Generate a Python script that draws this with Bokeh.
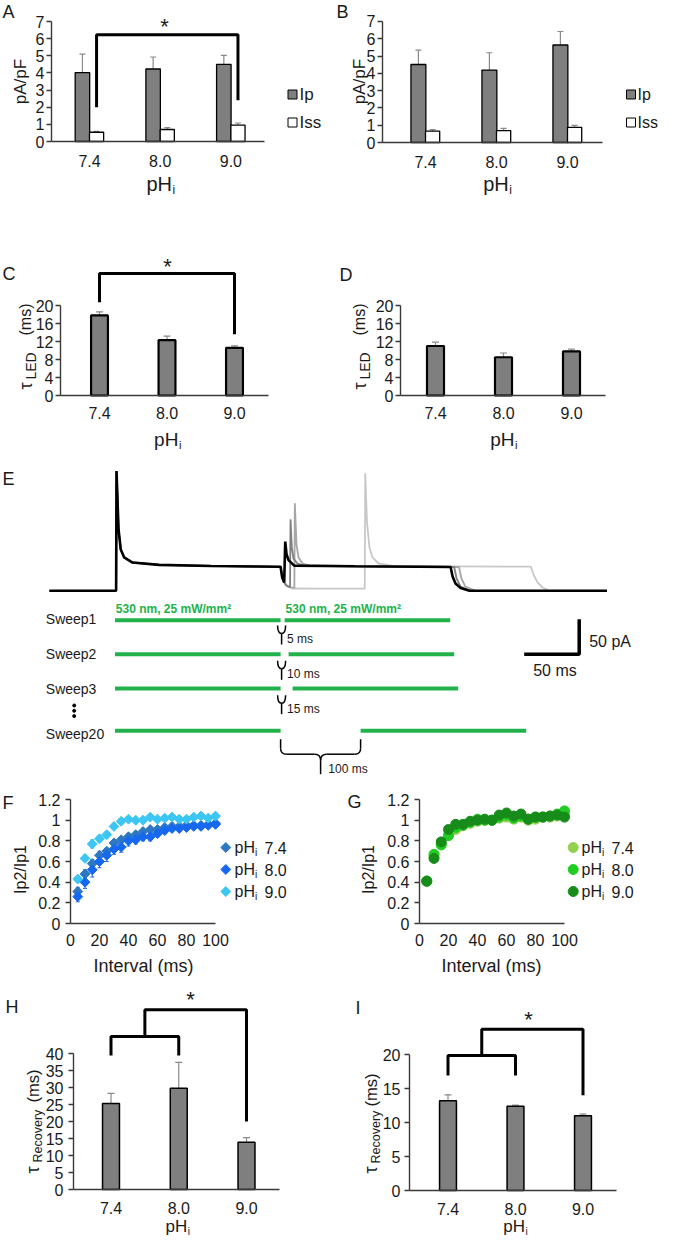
import math
from bokeh.plotting import figure
from bokeh.layouts import column, row
from bokeh.models import Range1d, FixedTicker, Label, Whisker, TeeHead, ColumnDataSource
from bokeh.embed import file_html
from bokeh.resources import INLINE

FONT = "Liberation Sans"
INK = "#1a1a1a"
AXC = "#3a3a3a"
BAR = "#7f7f7f"
ERRC = "#8a8a8a"
GREEN = "#22b24c"

# ---------------- data ----------------
ph_labels = ["7.4", "8.0", "9.0"]
cats = [1, 2, 3]

# A / B : current density (pA/pF)
a_ip = [4.02, 4.23, 4.50]
a_ip_err = [1.08, 0.70, 0.52]
a_iss = [0.54, 0.70, 0.96]
a_iss_err = [0.05, 0.11, 0.12]

b_ip = [4.51, 4.19, 5.64]
b_ip_err = [0.83, 1.00, 0.78]
b_iss = [0.66, 0.69, 0.88]
b_iss_err = [0.08, 0.13, 0.11]

# C / D : tau LED (ms)
c_tau = [17.8, 12.3, 10.6]
c_err = [0.8, 0.9, 0.45]
d_tau = [11.0, 8.5, 9.8]
d_err = [0.85, 0.95, 0.5]

# H / I : tau recovery (ms)
h_tau = [25.3, 29.8, 13.9]
h_err = [3.0, 7.6, 1.35]
i_tau = [13.2, 12.4, 11.0]
i_err = [0.85, 0.15, 0.25]

# F / G : Ip2/Ip1 vs interval
intervals = [5, 10, 15, 20, 25, 30, 35, 40, 45, 50, 55, 60, 65, 70, 75, 80, 85, 90, 95, 100]
f_74 = [0.31, 0.48, 0.58, 0.66, 0.70, 0.78, 0.81, 0.84, 0.86, 0.89, 0.91, 0.91, 0.93, 0.94, 0.94, 0.95, 0.95, 0.95, 0.96, 0.97]
f_74_err = [0.04, 0.04, 0.04, 0.04, 0.03, 0.03, 0.03, 0.03, 0.03, 0.03, 0.02, 0.02, 0.02, 0.02, 0.02, 0.02, 0.02, 0.02, 0.02, 0.02]
f_80 = [0.26, 0.40, 0.52, 0.60, 0.66, 0.72, 0.74, 0.80, 0.81, 0.84, 0.84, 0.87, 0.90, 0.92, 0.92, 0.93, 0.94, 0.94, 0.95, 0.96]
f_80_err = [0.05, 0.06, 0.07, 0.06, 0.06, 0.05, 0.05, 0.05, 0.04, 0.04, 0.04, 0.03, 0.03, 0.03, 0.03, 0.03, 0.02, 0.02, 0.02, 0.02]
f_90 = [0.43, 0.63, 0.77, 0.82, 0.86, 0.94, 0.99, 1.01, 1.00, 1.00, 1.03, 1.01, 1.02, 1.03, 1.01, 1.01, 1.03, 1.04, 1.02, 1.04]
f_90_err = [0.03, 0.03, 0.04, 0.03, 0.03, 0.02, 0.02, 0.02, 0.02, 0.02, 0.02, 0.02, 0.02, 0.02, 0.02, 0.02, 0.02, 0.02, 0.02, 0.02]

g_74 = [0.41, 0.65, 0.77, 0.86, 0.91, 0.95, 0.97, 0.99, 1.00, 1.00, 1.02, 1.03, 1.01, 1.03, 1.00, 1.01, 1.03, 1.03, 1.04, 1.06]
g_80 = [0.41, 0.67, 0.76, 0.85, 0.93, 0.95, 0.98, 1.01, 1.00, 1.00, 1.03, 1.05, 1.02, 1.04, 1.01, 1.03, 1.03, 1.04, 1.06, 1.09]
g_90 = [0.41, 0.63, 0.79, 0.91, 0.96, 0.96, 0.99, 1.00, 1.01, 1.00, 1.05, 1.07, 1.04, 1.06, 1.01, 1.03, 1.03, 1.04, 1.05, 1.03]
g_err = [0.02, 0.02, 0.02, 0.02, 0.02, 0.02, 0.02, 0.02, 0.02, 0.02, 0.02, 0.02, 0.02, 0.02, 0.02, 0.02, 0.02, 0.02, 0.02, 0.02]

# E : example current traces (time ms from LED onset, current pA)
sw1_t = [-82, 1.4, 1.9, 4.4, 7.2, 11.5, 21.9, 55, 120, 207, 209, 211.5, 212.8, 214.4, 216.9, 224, 300, 419.5, 422, 425.6, 432, 443, 615]
sw1_i = [0, 0, 171, 88, 59, 47.6, 40.4, 37.1, 35.5, 34.3, 19, 11.9, 70.4, 52.3, 43.9, 35.9, 35, 34, 20.4, 10.4, 4, 0, 0]
sw2_t = [-82, 1.4, 1.9, 4.4, 7.2, 11.5, 21.9, 55, 120, 207, 209, 211.5, 215, 218.8, 219.4, 221, 223.1, 228.1, 237, 300, 424, 427, 432, 444, 615]
sw2_i = [0, 0, 171, 88, 59, 47.6, 40.4, 37.1, 35.5, 34.3, 19, 11.9, 7, 5, 102, 62, 46, 39, 35.7, 35, 34, 17.6, 6.1, 0, 0]
sw3_t = [-82, 1.4, 1.9, 4.4, 7.2, 11.5, 21.9, 55, 120, 207, 209, 211.5, 215, 220, 224.2, 224.8, 226.9, 229.4, 234.4, 244.4, 300, 430, 433, 438, 450.6, 615]
sw3_i = [0, 0, 171, 88, 59, 47.6, 40.4, 37.1, 35.5, 34.3, 19, 11.9, 7, 5, 4.5, 125, 66, 47.6, 39, 35.7, 35, 34, 17.6, 6.1, 0, 0]
sw20_t = [-82, 1.4, 1.9, 4.4, 7.2, 11.5, 21.9, 55, 120, 207, 209.4, 213.1, 221.9, 260, 312.2, 312.8, 315, 318.1, 321.9, 329.4, 347, 420, 519.8, 523.1, 528.1, 534.4, 543, 615]
sw20_i = [0, 0, 171, 88, 59, 47.6, 40.4, 37.1, 35.5, 34.3, 19, 7.6, 3.3, 3.0, 3.0, 168, 97.6, 61.9, 47.6, 39, 35.7, 35, 34.5, 23.3, 11.9, 4.7, 0, 0]

sweep_names = ["Sweep1", "Sweep2", "Sweep3", "Sweep20"]
gap_ms = [5, 10, 15, 100]
pulse_ms = 207
led_text = "530 nm, 25 mW/mm\u00b2"


# ---------------- helpers ----------------
def X(g, rx):
    return g["x0"] + (rx - g["fl"]) / g["sx"]


def Y(g, ry):
    return g["y0"] + (g["fb"] - ry) / g["sy"]


def panel(ox, oy, w, h, fl, fb, sx, x0, sy, y0=0.0, axes=True):
    """Figure whose frame fills the whole canvas; axes are fixed at the
    data position of the original axis lines (left edge x0, bottom y0)."""
    g = dict(fl=fl, fb=fb, sx=sx, x0=x0, sy=sy, y0=y0)
    kw = {} if axes else dict(x_axis_type=None, y_axis_type=None)
    p = figure(width=w, height=h, output_backend="svg", toolbar_location=None,
               x_range=Range1d(X(g, ox), X(g, ox + w)),
               y_range=Range1d(Y(g, oy + h), Y(g, oy)),
               min_border=0, min_border_left=0, min_border_right=0,
               min_border_top=0, min_border_bottom=0, **kw)
    p.outline_line_color = None
    p.background_fill_color = "white"
    p.border_fill_color = "white"
    if axes:
        p.grid.visible = False
        p.xaxis.fixed_location = y0
        p.yaxis.fixed_location = x0
    return p, g


def lab(p, g, rx, ry, s, size, align="left", angle=0.0, color=INK, style="normal"):
    p.add_layout(Label(x=X(g, rx), y=Y(g, ry), text=s, text_font=FONT,
                       text_font_size=f"{size}px", text_color=color,
                       text_align=align, text_baseline="middle", angle=angle,
                       text_font_style=style))


def style(p, yticks, ylabels, ybounds, xticks, xlabels, xbounds, xstand, ystand, size=16):
    xa, ya = p.xaxis[0], p.yaxis[0]
    for ax in (xa, ya):
        ax.axis_line_color = AXC
        ax.axis_line_width = 1.4
        ax.major_tick_line_color = AXC
        ax.major_tick_line_width = 1.4
        ax.minor_tick_line_color = None
        ax.major_label_text_font = FONT
        ax.major_label_text_color = INK
        ax.major_label_text_font_size = f"{size}px"
    ya.ticker = FixedTicker(ticks=yticks)
    ya.major_label_overrides = dict(zip(yticks, ylabels))
    ya.bounds = ybounds
    ya.major_tick_out = 5
    ya.major_tick_in = 0
    ya.major_label_standoff = ystand
    xa.ticker = FixedTicker(ticks=xticks)
    xa.major_label_overrides = dict(zip(xticks, xlabels))
    xa.bounds = xbounds
    xa.major_tick_out = 0
    xa.major_tick_in = 0
    xa.major_label_standoff = xstand


def bars(p, xs, tops, errs, width, fill, lw, cap=7):
    src = ColumnDataSource(dict(x=xs, top=tops,
                                up=[t + e for t, e in zip(tops, errs)],
                                lo=[t - e for t, e in zip(tops, errs)]))
    p.vbar(x="x", top="top", bottom=0, width=width, source=src,
           fill_color=fill, line_color="black", line_width=lw)
    p.add_layout(Whisker(source=src, base="x", upper="up", lower="lo",
                         line_color=ERRC, line_width=1.2,
                         upper_head=TeeHead(size=cap, line_color=ERRC, line_width=1.2),
                         lower_head=TeeHead(size=cap, line_color=ERRC, line_width=1.2)))


def phi(p, g, left, cy, size):
    lab(p, g, left, cy, "pH", size)
    lab(p, g, left + 1.278 * size + 0.5, cy + 0.3 * size, "i", round(0.6 * size))


def tau(p, g, cx, ybot, sub, sub_size, y_sub, y_ms, main=18, ms=16):
    a = math.pi / 2
    lab(p, g, cx, ybot, "\u03c4", main, angle=a)
    lab(p, g, cx + 5, y_sub, sub, sub_size, angle=a)
    lab(p, g, cx, y_ms, "(ms)", ms, angle=a)


def bracket(p, xs, ys, lw=3):
    p.line(xs, ys, line_color="black", line_width=lw)


int_ticks = list(range(8))
# ================= A =================
pA, gA = panel(8, 8, 332, 197, 59, 149, 70.7, 1 - 38 / 70.7, 17.14)
style(pA, int_ticks, [str(v) for v in int_ticks], (0, 7), cats, ph_labels,
      (1 - 38 / 70.7, 3.475), 13, 2)
bars(pA, [c - 0.1 for c in cats], a_ip, a_ip_err, 0.205, BAR, 1.3, cap=6)
bars(pA, [c + 0.1 for c in cats], a_iss, a_iss_err, 0.2, "white", 1.3, cap=6)
bracket(pA, [1.1, 1.1, 3.1, 3.1], [2.0, 6.23, 6.23, 2.4])
lab(pA, gA, 172, 34, "*", 22, "center")
pA.scatter([X(gA, 300), X(gA, 300)], [Y(gA, 102), Y(gA, 130)], marker="square", size=9,
           fill_color=[BAR, "white"], line_color="black", line_width=1)
lab(pA, gA, 307, 102, "Ip", 17)
lab(pA, gA, 307, 130, "Iss", 17)
lab(pA, gA, 10, 19, "A", 18)
lab(pA, gA, 28, 89, "pA/pF", 17, "center", math.pi / 2)
phi(pA, gA, 154, 191, 20)

# ================= B =================
pB, gB = panel(340, 8, 328, 197, 390, 150, 71, 1 - 43 / 71, 17.29)
style(pB, int_ticks, [str(v) for v in int_ticks], (0, 7), cats, ph_labels,
      (1 - 43 / 71, 3.493), 13, 2)
bars(pB, [c - 0.1 for c in cats], b_ip, b_ip_err, 0.21, BAR, 1.3, cap=6)
bars(pB, [c + 0.1 for c in cats], b_iss, b_iss_err, 0.2, "white", 1.3, cap=6)
pB.scatter([X(gB, 638.5), X(gB, 638.5)], [Y(gB, 102), Y(gB, 130)], marker="square", size=9,
           fill_color=[BAR, "white"], line_color="black", line_width=1)
lab(pB, gB, 645, 102, "Ip", 16)
lab(pB, gB, 645, 130, "Iss", 16)
lab(pB, gB, 344, 19, "B", 18)
lab(pB, gB, 366.7, 89, "pA/pF", 17, "center", math.pi / 2)
phi(pB, gB, 490.7, 191, 20)

# ================= C =================
c_ticks = [0, 4, 8, 12, 16, 20]
pC, gC = panel(8, 205, 332, 265, 68, 403, 67.5, 1 - 39 / 67.5, 4.5)
style(pC, c_ticks, [str(v) for v in c_ticks], (0, 20), cats, ph_labels,
      (1 - 39 / 67.5, 3.504), 11, 2)
bars(pC, cats, c_tau, c_err, 0.25, BAR, 2.2)
bracket(pC, [1, 1, 3, 3], [20.7, 27.1, 27.1, 13.6])
lab(pC, gC, 175, 274, "*", 22, "center")
lab(pC, gC, 10, 281, "C", 18)
tau(pC, gC, 33, 397, "LED", 14, 387, 343)
phi(pC, gC, 161.6, 447, 19)

# ================= D =================
pD, gD = panel(340, 205, 328, 265, 408, 403, 68, 1 - 35 / 68, 4.5)
style(pD, c_ticks, [str(v) for v in c_ticks], (0, 20), cats, ph_labels,
      (1 - 35 / 68, 3.5), 11, 2)
bars(pD, cats, d_tau, d_err, 0.25, BAR, 2.2)
lab(pD, gD, 347, 282, "D", 18)
tau(pD, gD, 367, 397, "LED", 14, 387, 343)
phi(pD, gD, 497.8, 447, 19)

# ================= E =================
pE, gE = panel(8, 470, 660, 325, 8, 795, 0.8, (8 - 122.5) / 0.8, 0.7, (598.3 - 795) / 0.7, axes=False)
pE.line(sw20_t, sw20_i, line_color="#c8c8c8", line_width=1.8)
pE.line(sw3_t, sw3_i, line_color="#a6a6a6", line_width=1.8)
pE.line(sw2_t, sw2_i, line_color="#7f7f7f", line_width=1.8)
pE.line(sw1_t, sw1_i, line_color="black", line_width=2.6)
lab(pE, gE, 10, 486, "E", 18)

row_y = [627.7, 661.7, 696, 738.3]
name_dy = [-1, 0, 0, 3]
for k, (name, gap) in enumerate(zip(sweep_names, gap_ms)):
    yv = Y(gE, row_y[k])
    pE.segment(x0=[0, pulse_ms + gap], x1=[pulse_ms, 2 * pulse_ms + gap],
               y0=[yv, yv], y1=[yv, yv], line_color=GREEN, line_width=4)
    lab(pE, gE, 53.3, row_y[k] + name_dy[k], name, 14)

rx_on2 = 122.5 + 0.8 * (pulse_ms + gap_ms[0])
lab(pE, gE, 123.3, 616.7, led_text, 12, color=GREEN, style="bold")
lab(pE, gE, rx_on2 + 1, 616.7, led_text, 12, color=GREEN, style="bold")

# vertical ellipsis
pE.scatter([X(gE, 81.7)] * 3, [Y(gE, 713), Y(gE, 718.3), Y(gE, 723.6)], size=3, color="black")

# Y-shaped gap markers
xr = 122.5 + 0.8 * pulse_ms
fork_top = [633, 668.3, 702.7]
for k in range(3):
    top = fork_top[k]
    join = top + 8
    bot = top + 19
    m = xr + 1
    pE.bezier(x0=[X(gE, xr - 3), X(gE, xr + 5)], y0=[Y(gE, top)] * 2,
              x1=[X(gE, m)] * 2, y1=[Y(gE, join)] * 2,
              cx0=[X(gE, xr - 3), X(gE, xr + 5)], cy0=[Y(gE, top + 6)] * 2,
              cx1=[X(gE, m - 2), X(gE, m + 2)], cy1=[Y(gE, join)] * 2,
              line_color="black", line_width=1.5)
    pE.line([X(gE, m), X(gE, m)], [Y(gE, join), Y(gE, bot)], line_color="black", line_width=1.5)
    lab(pE, gE, xr + 6.5, top + 13.5, f"{gap_ms[k]} ms", 12)

# 100 ms brace
xL = 122.5 + 0.8 * pulse_ms
xR = 122.5 + 0.8 * (pulse_ms + gap_ms[3])
mid = (xL + xR) / 2
bt, by, sb = 746.7, 761.7, 781.7
for x_edge, sgn in ((xL, 1), (xR, -1)):
    pE.line([X(gE, x_edge), X(gE, x_edge)], [Y(gE, bt), Y(gE, by - 6)], line_color="black", line_width=1.5)
    pE.bezier(x0=[X(gE, x_edge)], y0=[Y(gE, by - 6)], x1=[X(gE, x_edge + sgn * 6)], y1=[Y(gE, by)],
              cx0=[X(gE, x_edge)], cy0=[Y(gE, by - 2)], cx1=[X(gE, x_edge + sgn * 2)], cy1=[Y(gE, by)],
              line_color="black", line_width=1.5)
    pE.line([X(gE, x_edge + sgn * 6), X(gE, mid - sgn * 6)], [Y(gE, by), Y(gE, by)],
            line_color="black", line_width=1.5)
    pE.bezier(x0=[X(gE, mid - sgn * 6)], y0=[Y(gE, by)], x1=[X(gE, mid)], y1=[Y(gE, by + 6)],
              cx0=[X(gE, mid - sgn * 2)], cy0=[Y(gE, by)], cx1=[X(gE, mid)], cy1=[Y(gE, by + 2)],
              line_color="black", line_width=1.5)
pE.line([X(gE, mid), X(gE, mid)], [Y(gE, by + 6), Y(gE, sb)], line_color="black", line_width=1.5)
lab(pE, gE, mid + 7.7, 776, "100 ms", 12)

# scale bar
pE.line([X(gE, 531.7), X(gE, 586.7), X(gE, 586.7)], [Y(gE, 661.7), Y(gE, 661.7), Y(gE, 626.7)],
        line_color="black", line_width=3.5)
lab(pE, gE, 596.7, 649, "50 pA", 16)
lab(pE, gE, 540.7, 678.3, "50 ms", 16)

# ================= F =================
f_ticks = [0, 0.2, 0.4, 0.6, 0.8, 1, 1.2]
f_tlabels = ["0", "0.2", "0.4", "0.6", "0.8", "1", "1.2"]
x_ticks = [0, 20, 40, 60, 80, 100]
C74, C80, C90 = "#2e78c2", "#1768f0", "#3cc6f4"
pF, gF = panel(8, 795, 342, 197, 78, 931, 1.45, 0, 103.3)
style(pF, f_ticks, f_tlabels, (0, 1.2), x_ticks, [str(v) for v in x_ticks], (0, 100), 10, 5)
for vals, errs, col in ((f_74, f_74_err, C74), (f_80, f_80_err, C80), (f_90, f_90_err, C90)):
    src = ColumnDataSource(dict(x=intervals, y=vals,
                                up=[v + e for v, e in zip(vals, errs)],
                                lo=[v - e for v, e in zip(vals, errs)]))
    pF.add_layout(Whisker(source=src, base="x", upper="up", lower="lo", line_color=col, line_width=1,
                          upper_head=TeeHead(size=4, line_color=col, line_width=1),
                          lower_head=TeeHead(size=4, line_color=col, line_width=1), level="underlay"))
    pF.scatter("x", "y", source=src, marker="square", angle=math.pi / 4, size=7,
               fill_color=col, line_color=col)
for k, (col, txt) in enumerate(((C74, "7.4"), (C80, "8.0"), (C90, "9.0"))):
    yy = 855 + 22 * k
    pF.scatter([X(gF, 233.3)], [Y(gF, yy)], marker="square", angle=math.pi / 4, size=7,
               fill_color=col, line_color=col)
    lab(pF, gF, 242, yy, "pH", 16)
    lab(pF, gF, 262.5, yy + 5, "i", 10)
    lab(pF, gF, 272, yy, txt, 16)
lab(pF, gF, 10, 810, "F", 18)
lab(pF, gF, 28, 877, "Ip2/Ip1", 16, "center", math.pi / 2)
lab(pF, gF, 151, 973, "Interval (ms)", 18, "center")

# ================= G =================
G74, G80, G90 = "#92d050", "#22cc22", "#178c1a"
pG, gG = panel(350, 795, 318, 197, 427, 931, 1.45, 0, 103.3)
style(pG, f_ticks, f_tlabels, (0, 1.2), x_ticks, [str(v) for v in x_ticks], (0, 100), 10, 5)
for vals, col in ((g_74, G74), (g_80, G80), (g_90, G90)):
    src = ColumnDataSource(dict(x=intervals, y=vals,
                                up=[v + e for v, e in zip(vals, g_err)],
                                lo=[v - e for v, e in zip(vals, g_err)]))
    pG.add_layout(Whisker(source=src, base="x", upper="up", lower="lo", line_color=col, line_width=1,
                          upper_head=TeeHead(size=4, line_color=col, line_width=1),
                          lower_head=TeeHead(size=4, line_color=col, line_width=1), level="underlay"))
    pG.scatter("x", "y", source=src, marker="circle", size=10, fill_color=col, line_color=col)
for k, (col, txt) in enumerate(((G74, "7.4"), (G80, "8.0"), (G90, "9.0"))):
    yy = 855 + 22 * k
    pG.scatter([X(gG, 580.7)], [Y(gG, yy)], marker="circle", size=10, fill_color=col, line_color=col)
    lab(pG, gG, 589, yy, "pH", 16)
    lab(pG, gG, 609.5, yy + 5, "i", 10)
    lab(pG, gG, 619, yy, txt, 16)
lab(pG, gG, 355, 809, "G", 18)
lab(pG, gG, 376, 877, "Ip2/Ip1", 16, "center", math.pi / 2)
lab(pG, gG, 499, 973, "Interval (ms)", 18, "center")

# ================= H =================
h_ticks = list(range(0, 45, 5))
pH, gH = panel(8, 992, 332, 254, 81, 1197, 67.75, 1 - 37.5 / 67.75, 3.4)
style(pH, h_ticks, [str(v) for v in h_ticks], (0, 40), cats, ph_labels,
      (1 - 37.5 / 67.75, 3.487), 12, 5)
bars(pH, cats, h_tau, h_err, 0.25, BAR, 1.5)
bracket(pH, [1, 1, 2, 2], [39.4, 45, 45, 39.4])
bracket(pH, [1.5, 1.5, 3, 3], [45, 52.9, 52.9, 20])
lab(pH, gH, 198, 1007, "*", 22, "center")
lab(pH, gH, 13, 1014, "H", 18)
tau(pH, gH, 40, 1181, "Recovery", 12.5, 1170, 1110, main=18, ms=16.5)
phi(pH, gH, 173, 1234, 17)

# ================= I =================
i_ticks = [0, 5, 10, 15, 20]
pI, gI = panel(340, 992, 328, 254, 417, 1198, 67.5, 1 - 38.5 / 67.5, 6.8)
style(pI, i_ticks, [str(v) for v in i_ticks], (0, 20), cats, ph_labels,
      (1 - 38.5 / 67.5, 3.496), 12, 4)
bars(pI, cats, i_tau, i_err, 0.25, BAR, 1.5)
bracket(pI, [1, 1, 2, 2], [16.9, 19.85, 19.85, 16.9])
bracket(pI, [1.5, 1.5, 3, 3], [19.85, 23.7, 23.7, 14.0])
lab(pI, gI, 536, 1027, "*", 22, "center")
lab(pI, gI, 363, 1015, "I", 18)
tau(pI, gI, 378, 1181, "Recovery", 12.5, 1171, 1114, main=18, ms=16.5)
phi(pI, gI, 510.7, 1234, 17)

layout = column(row(pA, pB), row(pC, pD), pE, row(pF, pG), row(pH, pI))
open("out.html", "w").write(file_html(layout, INLINE))
